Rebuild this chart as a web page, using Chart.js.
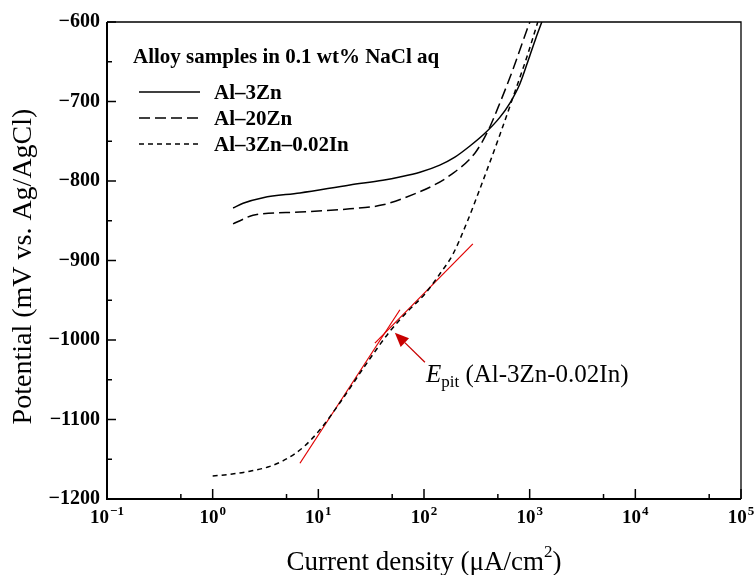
<!DOCTYPE html>
<html>
<head>
<meta charset="utf-8">
<script src="https://cdn.jsdelivr.net/npm/chart.js@4.4.0/dist/chart.umd.min.js"></script>
<style>
html, body { margin: 0; padding: 0; background: #fff; }
#wrap { width: 755px; height: 575px; position: relative; }
</style>
</head>
<body>
<div id="wrap"><canvas id="pol-chart"></canvas></div>
<script>
// polarization curves, values
const al3znX = [1.56, 1.94, 3, 6.7, 19.9, 40.8, 59, 91.5, 141, 196, 272, 377, 522, 650, 807, 1005, 1146, 1303];
const al3znY = [-834, -828, -821, -815, -805, -799, -795, -789, -780, -770, -756, -740, -720, -702, -678, -642, -620, -600];

const al20znX = [1.56, 2.02, 2.41, 6.7, 19.9, 40.8, 85.7, 121, 176, 303, 403, 522, 693, 941, 1005];
const al20znY = [-854, -847, -843, -839, -835, -830, -815, -806, -793, -765, -737, -702, -660, -610, -600];

const al3znInX = [1.0, 1.46, 2.25, 3.48, 4.62, 6.0, 7.47, 10.35, 16, 28.8, 47.6, 68.9, 102, 141, 188, 255, 338, 522, 724, 941, 1194];
const al3znInY = [-1171, -1169, -1165, -1159, -1152, -1143, -1133, -1113, -1079, -1029, -989, -965, -942, -917, -892, -852, -810, -742, -688, -644, -600];

// tangent lines for E_pit
const tangent1X = [6.7, 59.2];
const tangent1Y = [-1155, -962];
const tangent2X = [34.3, 290];
const tangent2Y = [-1004, -879];

const seriesNames = ['Al\u20133Zn', 'Al\u201320Zn', 'Al\u20133Zn\u20130.02In'];
const legendTitle = 'Alloy samples in 0.1 wt% NaCl aq';

const xMajorTicks = [0.1, 1, 10, 100, 1000, 10000, 100000];
const xMinorTicks = [0.5, 5, 50, 500, 5000, 50000];
const xTickExp = ['\u22121', '0', '1', '2', '3', '4', '5'];

const arrowTip = { x: 53, y: -991 };
const arrowTail = { x: 102, y: -1028 };

const serif = "'Liberation Serif', 'Times New Roman', serif";

function pts(xs, ys) {
    return xs.map((x, i) => ({ x: x, y: ys[i] }));
}

function curve(label, xs, ys, dash) {
    return {
        label: label,
        data: pts(xs, ys),
        showLine: true,
        borderColor: '#000',
        borderWidth: 1.5,
        borderDash: dash,
        pointRadius: 0,
        cubicInterpolationMode: 'monotone',
        fill: false
    };
}

function tangent(xs, ys) {
    return {
        data: pts(xs, ys),
        showLine: true,
        borderColor: '#e00000',
        borderWidth: 1.2,
        pointRadius: 0,
        fill: false
    };
}

const decor = {
    id: 'decor',
    afterDraw(chart) {
        const c = chart.ctx;
        const a = chart.chartArea;
        const xs = chart.scales.x;
        const ys = chart.scales.y;
        c.save();

        // frame
        c.strokeStyle = '#000';
        c.lineWidth = 1.3;
        c.beginPath();
        c.moveTo(a.left, a.top);
        c.lineTo(a.right, a.top);
        c.lineTo(a.right, a.bottom);
        c.stroke();
        c.lineWidth = 2;
        c.beginPath();
        c.moveTo(a.left, a.top);
        c.lineTo(a.left, a.bottom);
        c.lineTo(a.right, a.bottom);
        c.stroke();

        // ticks pointing inward
        c.lineWidth = 1.5;
        xs.ticks.forEach(t => {
            const px = xs.getPixelForValue(t.value);
            const len = t.major ? 10 : 5;
            c.beginPath();
            c.moveTo(px, a.bottom);
            c.lineTo(px, a.bottom - len);
            c.stroke();
        });
        for (let v = ys.min; v <= ys.max; v += 50) {
            const py = ys.getPixelForValue(v);
            const len = (v % 100 === 0) ? 9 : 5;
            c.beginPath();
            c.moveTo(a.left, py);
            c.lineTo(a.left + len, py);
            c.stroke();
        }

        // x tick labels 10^n
        c.fillStyle = '#000';
        c.textBaseline = 'alphabetic';
        xMajorTicks.forEach((v, i) => {
            const px = xs.getPixelForValue(v);
            c.font = 'bold 19px ' + serif;
            const wb = c.measureText('10').width;
            c.font = 'bold 13px ' + serif;
            const we = c.measureText(xTickExp[i]).width;
            const x0 = px - (wb + we + 1) / 2;
            c.font = 'bold 19px ' + serif;
            c.textAlign = 'left';
            c.fillText('10', x0, 523);
            c.font = 'bold 13px ' + serif;
            c.fillText(xTickExp[i], x0 + wb + 1, 515);
        });

        // axis titles
        c.font = '27px ' + serif;
        const t1 = 'Current density (\u03bcA/cm';
        const w1 = c.measureText(t1).width;
        c.font = '17px ' + serif;
        const w2 = c.measureText('2').width;
        c.font = '27px ' + serif;
        const w3 = c.measureText(')').width;
        let tx = (a.left + a.right) / 2 - (w1 + w2 + w3) / 2;
        c.fillText(t1, tx, 570);
        c.font = '17px ' + serif;
        c.fillText('2', tx + w1, 557);
        c.font = '27px ' + serif;
        c.fillText(')', tx + w1 + w2, 570);

        c.save();
        c.font = '28px ' + serif;
        c.translate(24, (a.top + a.bottom) / 2 + 6);
        c.rotate(-Math.PI / 2);
        c.textAlign = 'center';
        c.textBaseline = 'middle';
        c.fillText('Potential (mV vs. Ag/AgCl)', 0, 0);
        c.restore();

        // legend
        c.font = 'bold 21px ' + serif;
        c.textAlign = 'left';
        c.fillText(legendTitle, 133, 63);
        const rows = [92, 118, 144];
        chart.data.datasets.slice(0, 3).forEach((ds, i) => {
            c.strokeStyle = '#000';
            c.lineWidth = 1.5;
            c.setLineDash(ds.borderDash || []);
            c.beginPath();
            c.moveTo(139, rows[i]);
            c.lineTo(200, rows[i]);
            c.stroke();
            c.setLineDash([]);
            c.fillText(seriesNames[i], 214, rows[i] + 7);
        });

        // E_pit arrow
        const hx = xs.getPixelForValue(arrowTip.x), hy = ys.getPixelForValue(arrowTip.y);
        const sx = xs.getPixelForValue(arrowTail.x), sy = ys.getPixelForValue(arrowTail.y);
        const ang = Math.atan2(hy - sy, hx - sx);
        const hl = 14, hw = 6;
        const bx = hx - hl * Math.cos(ang), by = hy - hl * Math.sin(ang);
        c.strokeStyle = '#c80000';
        c.fillStyle = '#c80000';
        c.lineWidth = 1.3;
        c.beginPath();
        c.moveTo(sx, sy);
        c.lineTo(bx, by);
        c.stroke();
        c.beginPath();
        c.moveTo(hx, hy);
        c.lineTo(bx + hw * Math.sin(ang), by - hw * Math.cos(ang));
        c.lineTo(bx - hw * Math.sin(ang), by + hw * Math.cos(ang));
        c.closePath();
        c.fill();

        // E_pit label
        c.fillStyle = '#000';
        let lx = sx + 1, ly = sy + 20;
        c.font = 'italic 25px ' + serif;
        c.fillText('E', lx, ly);
        lx += c.measureText('E').width;
        c.font = '17px ' + serif;
        c.fillText('pit', lx, ly + 5);
        lx += c.measureText('pit').width;
        c.font = '25px ' + serif;
        c.fillText(' (Al-3Zn-0.02In)', lx, ly);

        c.restore();
    }
};

const ctx = document.getElementById('pol-chart').getContext('2d');
const polChart = new Chart(ctx, {
    type: 'scatter',
    data: {
        datasets: [
            curve(seriesNames[0], al3znX, al3znY, []),
            curve(seriesNames[1], al20znX, al20znY, [11, 5]),
            curve(seriesNames[2], al3znInX, al3znInY, [5, 4]),
            tangent(tangent1X, tangent1Y),
            tangent(tangent2X, tangent2Y)
        ]
    },
    options: {
        responsive: true,
        maintainAspectRatio: false,
        animation: false,
        devicePixelRatio: 1,
        layout: { padding: { top: 22, right: 14, left: 0, bottom: 0 } },
        plugins: {
            legend: { display: false },
            tooltip: { enabled: false }
        },
        scales: {
            x: {
                type: 'logarithmic',
                min: 0.1,
                max: 100000,
                grid: { display: false },
                border: { display: false },
                ticks: { display: false },
                afterBuildTicks: (s) => {
                    s.ticks = xMajorTicks.map(v => ({ value: v, major: true }))
                        .concat(xMinorTicks.map(v => ({ value: v, major: false })));
                },
                afterFit: (s) => { s.height = 76; }
            },
            y: {
                type: 'linear',
                min: -1200,
                max: -600,
                grid: { display: false, drawTicks: false },
                border: { display: false },
                ticks: {
                    stepSize: 100,
                    padding: 7,
                    color: '#000',
                    font: { family: serif, size: 20, weight: 'bold' },
                    callback: (v) => '\u2212' + Math.abs(v)
                },
                afterFit: (s) => { s.width = 107; }
            }
        }
    },
    plugins: [decor]
});
</script>
</body>
</html>
